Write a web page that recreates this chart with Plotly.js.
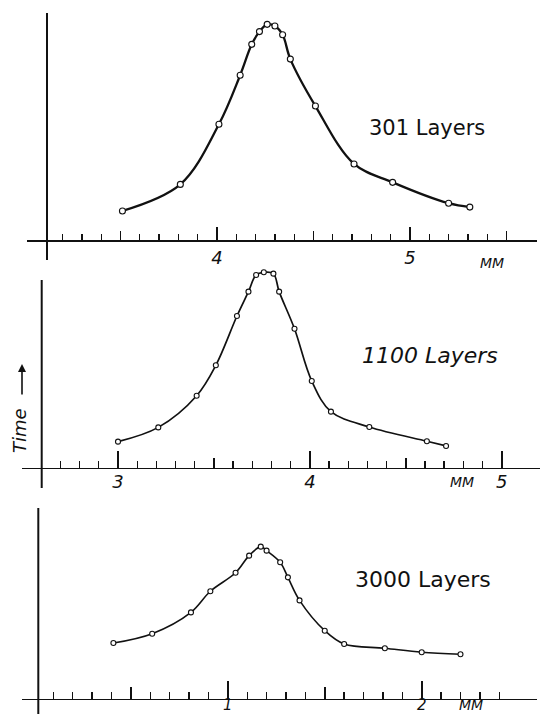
<!DOCTYPE html>
<html>
<head>
<meta charset="utf-8">
<script src="https://cdn.plot.ly/plotly-3.0.1.min.js"></script>
<style>html,body{margin:0;padding:0;background:#fff;}#chart{width:543px;height:714px;}</style>
</head>
<body>
<div id="chart"></div>
<script>
// ---------- DATA (x in mm, y = time in arbitrary units) ----------
const layers = ["301 Layers", "1100 Layers", "3000 Layers"];

const x301 = [3.51, 3.81, 4.01, 4.12, 4.18, 4.22, 4.26, 4.30, 4.34, 4.38, 4.51, 4.71, 4.91, 5.20, 5.31];
const y301 = [12.8, 24.5, 51.0, 72.6, 86.2, 91.8, 95.0, 94.3, 90.4, 79.7, 59.0, 33.5, 25.4, 16.2, 14.5];

const x1100 = [3.00, 3.21, 3.41, 3.51, 3.62, 3.68, 3.72, 3.76, 3.81, 3.84, 3.92, 4.01, 4.11, 4.31, 4.61, 4.71];
const y1100 = [13.8, 21.4, 38.3, 54.5, 80.8, 93.8, 102.7, 104.1, 103.4, 93.8, 74.0, 46.1, 29.8, 21.6, 14.0, 11.5];

const x3000 = [0.41, 0.61, 0.81, 0.91, 1.04, 1.11, 1.17, 1.20, 1.27, 1.31, 1.37, 1.50, 1.60, 1.81, 2.00, 2.20];
const y3000 = [29.1, 34.0, 45.2, 56.3, 66.0, 75.0, 79.7, 77.6, 71.5, 63.6, 51.5, 35.6, 28.6, 26.4, 24.3, 23.2];

// tick labels (major ticks) and tick spans
const major301 = [4, 5];        const half301 = [3.5, 4.5, 5.5];  const minorSpan301 = [3.2, 5.5];
const major1100 = [3, 4, 5];    const half1100 = [3.5, 4.5];      const minorSpan1100 = [2.7, 4.9];
const major3000 = [1, 2];       const half3000 = [0.5, 1.5];      const minorSpan3000 = [0.1, 2.4];
const unitLabel = "MM";
const yLabel = "Time";

// ---------- LAYOUT GEOMETRY (pixels of the 543x714 page) ----------
const W = 543, H = 714;
const fx = px => px / W;
const fy = py => 1 - py / H;

const panels = [
  { name: layers[0], xs: x301, ys: y301, majors: major301, halves: half301, minorSpan: minorSpan301,
    cal: [4, 217, 5, 410], xDom: [27, 537], yTop: 6, yBot: 262, axisPy: 240, topPy: 13, yLinePx: 47, yLineBotPy: 260,
    majLen: 13, halfLen: 9, minLen: 6, lineW: 2.3, mSize: 6, standoff: 1, tickSize: 18,
    label: { x: 427, y: 128, italic: false, size: 21 }, mm: { x: 492, y: 263 } },
  { name: layers[1], xs: x1100, ys: y1100, majors: major1100, halves: half1100, minorSpan: minorSpan1100,
    cal: [3, 118, 5, 501.7], xDom: [22, 540], yTop: 266, yBot: 490, axisPy: 467.5, topPy: 280, yLinePx: 41.7, yLineBotPy: 488,
    majLen: 17, halfLen: 10, minLen: 7, lineW: 1.7, mSize: 5, standoff: -3, tickSize: 18,
    label: { x: 430, y: 355, italic: true, size: 22 }, mm: { x: 462, y: 482 } },
  { name: layers[2], xs: x3000, ys: y3000, majors: major3000, halves: half3000, minorSpan: minorSpan3000,
    cal: [1, 227.8, 2, 421.7], xDom: [22, 537], yTop: 500, yBot: 714, axisPy: 698.5, topPy: 508, yLinePx: 38.3, yLineBotPy: 714,
    majLen: 18, halfLen: 12, minLen: 7, lineW: 1.6, mSize: 5, standoff: -8, tickSize: 15,
    label: { x: 423, y: 579, italic: false, size: 22 }, mm: { x: 471, y: 705 } }
];

const FONT = "DejaVu Sans";
const INK = "#111";
const traces = [];
const layout = {
  width: W, height: H,
  margin: { l: 0, r: 0, t: 0, b: 0 },
  paper_bgcolor: "#fff", plot_bgcolor: "rgba(0,0,0,0)",
  showlegend: false,
  font: { family: FONT, color: INK },
  shapes: [], annotations: []
};

panels.forEach((p, i) => {
  const n = i + 1, h = i + 4;
  const xa = "xaxis" + (n === 1 ? "" : n), ya = "yaxis" + (n === 1 ? "" : n), xh = "xaxis" + h;
  const xid = n === 1 ? "x" : "x" + n, yid = n === 1 ? "y" : "y" + n;
  const [mA, pA, mB, pB] = p.cal;
  const toMm = px => mA + (px - pA) * (mB - mA) / (pB - pA);
  const xRange = [toMm(p.xDom[0]), toMm(p.xDom[1])];
  const unitPx = (p.axisPy - p.topPy) / 100;
  const yRange = [-(p.yBot - p.axisPy) / unitPx, (p.axisPy - p.yTop) / unitPx];
  const xDomain = [fx(p.xDom[0]), fx(p.xDom[1])];
  const minors = [];
  for (let k = Math.round(p.minorSpan[0] * 10); k <= Math.round(p.minorSpan[1] * 10); k++) minors.push(k / 10);

  traces.push({
    type: "scatter", mode: "lines+markers", x: p.xs, y: p.ys, xaxis: xid, yaxis: yid,
    line: { shape: "spline", smoothing: 1, color: INK, width: p.lineW },
    marker: { symbol: "circle", size: p.mSize, color: "#fff", line: { color: INK, width: 1.1 } },
    cliponaxis: false, hoverinfo: "skip"
  });
  // empty trace so the half-tick overlay axis gets drawn
  traces.push({ type: "scatter", mode: "markers", x: [null], y: [null], xaxis: "x" + h, yaxis: yid, hoverinfo: "skip" });

  layout[xa] = {
    domain: xDomain, range: xRange, anchor: "free", position: fy(p.axisPy),
    showline: true, linecolor: INK, linewidth: 1.7, showgrid: false, zeroline: false,
    ticks: "inside", tickmode: "array", tickvals: p.majors, ticktext: p.majors.map(String),
    ticklen: p.majLen, tickwidth: 1.7, tickcolor: INK, ticklabelstandoff: p.standoff,
    tickfont: { family: FONT, size: p.tickSize, color: INK, style: "italic" },
    minor: { tickmode: "array", tickvals: minors, ticks: "inside", ticklen: p.minLen, tickwidth: 1.3, tickcolor: INK, showgrid: false },
    fixedrange: true
  };
  layout[xh] = {
    overlaying: xid, domain: xDomain, range: xRange, anchor: "free", position: fy(p.axisPy),
    showline: false, showgrid: false, zeroline: false, showticklabels: false,
    ticks: "inside", tickmode: "array", tickvals: p.halves, ticklen: p.halfLen, tickwidth: 1.5, tickcolor: INK,
    fixedrange: true
  };
  layout[ya] = {
    domain: [fy(p.yBot), fy(p.yTop)], range: yRange, anchor: xid,
    visible: false, showgrid: false, zeroline: false, fixedrange: true
  };
  // hand-drawn vertical (time) axis line
  layout.shapes.push({
    type: "line", xref: xid, yref: yid,
    x0: toMm(p.yLinePx), x1: toMm(p.yLinePx),
    y0: -(p.yLineBotPy - p.axisPy) / unitPx, y1: 100,
    line: { color: INK, width: 2 }
  });
  layout.annotations.push({
    xref: "paper", yref: "paper", x: fx(p.label.x), y: fy(p.label.y), xanchor: "center", yanchor: "middle",
    text: p.name, showarrow: false,
    font: { family: FONT, size: p.label.size, color: INK, style: p.label.italic ? "italic" : "normal" }
  });
  layout.annotations.push({
    xref: "paper", yref: "paper", x: fx(p.mm.x), y: fy(p.mm.y), xanchor: "center", yanchor: "middle",
    text: unitLabel, showarrow: false,
    font: { family: FONT, size: 14, color: INK, style: "italic" }
  });
});

// "Time ->" label on the left
layout.annotations.push({
  xref: "paper", yref: "paper", x: fx(19), y: fy(431), xanchor: "center", yanchor: "middle",
  text: yLabel, textangle: -90, showarrow: false,
  font: { family: FONT, size: 18, color: INK, style: "italic" }
});
layout.annotations.push({
  xref: "paper", yref: "paper", x: fx(22), y: fy(364), text: "", showarrow: true,
  ax: 0, ay: 32, arrowhead: 2, arrowsize: 1, arrowwidth: 1.6, arrowcolor: INK
});

Plotly.newPlot("chart", traces, layout, { staticPlot: true, displayModeBar: false });
</script>
</body>
</html>
